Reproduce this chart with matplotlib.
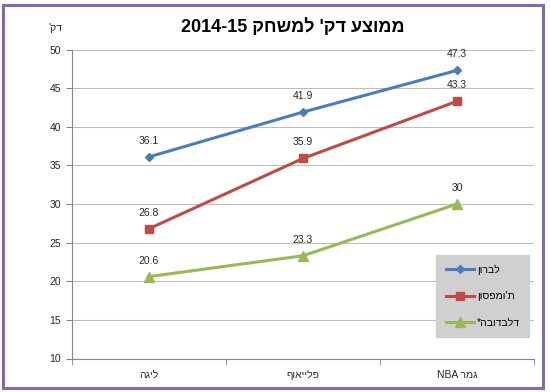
import matplotlib.pyplot as plt
from matplotlib.patches import Rectangle
from matplotlib.ticker import FixedLocator

plt.rcParams['font.family'] = ['Liberation Sans', 'DejaVu Sans']

# Hebrew strings are stored in visual (left-to-right) order for rendering
title = "2014-15 קחשמל 'קד עצוממ"
ylabel = "'קד"
categories = ["הגיל", "ףואיילפ", "NBA רמג"]
series_names = ["ןורבל", "ןוספמו'ת", "*הבודבלד"]
lebron = [36.1, 41.9, 47.3]
thompson = [26.8, 35.9, 43.3]
dellavedova = [20.6, 23.3, 30]
label_text = [["36.1", "41.9", "47.3"],
              ["26.8", "35.9", "43.3"],
              ["20.6", "23.3", "30"]]

colors = ['#4a7ebb', '#be4b48', '#98b954']
markers = ['D', 's', '^']
msizes = [4.5, 6, 6.5]

fig = plt.figure(figsize=(5.5, 3.92), dpi=100)
W, H = 550, 392

# chart frame
fig.patches.append(Rectangle((3 / W, 1 - 388 / H), 540 / W, 383 / H,
                             transform=fig.transFigure, fill=False,
                             edgecolor='#8468a8', linewidth=2.2))

ax = fig.add_axes([72 / W, 1 - 358.5 / H, 462 / W, 309 / H])
x = list(range(len(categories)))

for vals, labs, c, m, ms, name in zip([lebron, thompson, dellavedova], label_text,
                                      colors, markers, msizes, series_names):
    ax.plot(x, vals, color=c, marker=m, markersize=ms, linewidth=2.2, label=name)
    for xi, v, t in zip(x, vals, labs):
        ax.annotate(t, (xi, v), xytext=(0, 8), textcoords='offset points',
                    ha='center', va='bottom', fontsize=7.5, color='#262626')

ax.set_xlim(-0.5, 2.5)
ax.set_ylim(10, 50)
ax.set_yticks(range(10, 51, 5))
ax.set_xticks(x)
ax.set_xticklabels(categories, fontsize=7.5, color='#262626')
ax.xaxis.set_minor_locator(FixedLocator([-0.5, 0.5, 1.5, 2.5]))
ax.tick_params(axis='x', which='major', length=0, pad=8)
ax.tick_params(axis='x', which='minor', length=4, color='#868686')
ax.tick_params(axis='y', length=4, color='#868686', labelsize=7.5,
               labelcolor='#262626', pad=4)
ax.grid(axis='y', color='#bebebe', linewidth=0.8)
ax.set_axisbelow(True)
for s in ['top', 'right']:
    ax.spines[s].set_visible(False)
for s in ['left', 'bottom']:
    ax.spines[s].set_color('#868686')

fig.text(293 / W, 1 - 27 / H, title, ha='center', va='center',
         fontsize=13, fontweight='bold')
fig.text(55 / W, 1 - 28 / H, ylabel, ha='center', va='center', fontsize=7.5,
         color='#262626')

leg = ax.legend(loc='upper right', bbox_to_anchor=(0.99, 0.335), fontsize=7.5,
                frameon=True, fancybox=False, labelspacing=1.6, handlelength=2.7,
                borderpad=0.9, handletextpad=0.3, borderaxespad=0)
leg.get_frame().set_facecolor('#d0d0d0')
leg.get_frame().set_edgecolor('#d0d0d0')
leg.get_frame().set_alpha(1)

fig.savefig('out.png', dpi=100)
